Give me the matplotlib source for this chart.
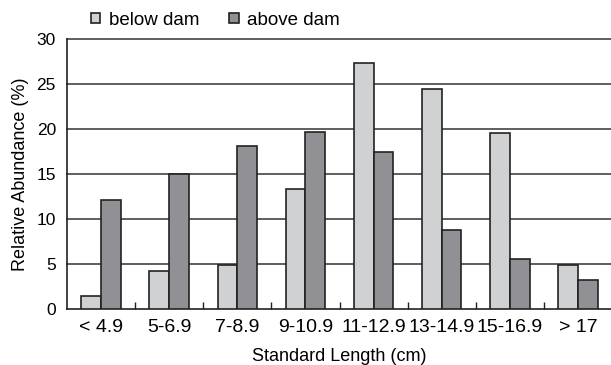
import matplotlib
matplotlib.use("Agg")
import matplotlib.pyplot as plt
import numpy as np

categories = ["< 4.9", "5-6.9", "7-8.9", "9-10.9", "11-12.9", "13-14.9", "15-16.9", "> 17"]
below_dam = [1.4, 4.2, 4.9, 13.3, 27.3, 24.4, 19.6, 4.9]
above_dam = [12.1, 15.0, 18.1, 19.7, 17.5, 8.8, 5.6, 3.2]
yticks = [0, 5, 10, 15, 20, 25, 30]

plt.rcParams['font.family'] = ['Liberation Sans', 'DejaVu Sans']

fig = plt.figure(figsize=(6.11, 3.65), dpi=100)
ax = fig.add_axes([67/611, 1-309/365, (612-67)/611, (309-39)/365])

light = "#d0d1d3"
dark = "#909095"
edge = "#222222"
x = np.arange(len(categories))
w = 0.29
ax.bar(x - w/2, below_dam, w, color=light, edgecolor=edge, linewidth=1.2, zorder=3, label="below dam")
ax.bar(x + w/2, above_dam, w, color=dark, edgecolor=edge, linewidth=1.2, zorder=3, label="above dam")

ax.set_xlim(-0.5, 7.5)
ax.set_ylim(0, 30)
ax.set_yticks(yticks)
for yv in yticks[1:]:
    ax.axhline(yv, color="#333333", linewidth=1.1, zorder=1, clip_on=False)

ax.spines['top'].set_visible(False)
ax.spines['right'].set_visible(False)
ax.spines['left'].set_linewidth(1.2)
ax.spines['bottom'].set_linewidth(1.2)
ax.spines['left'].set_color(edge)
ax.spines['bottom'].set_color(edge)

ax.set_xticks(x)
ax.set_xticklabels(categories, fontsize=14)
ax.tick_params(axis='x', which='major', length=0, pad=7)
ax.set_xticks(np.arange(0.5, 7.5, 1), minor=True)
ax.tick_params(axis='x', which='minor', direction='in', length=5, width=1, color=edge)
ax.tick_params(axis='y', length=0, labelsize=12.5, pad=8)

ax.set_xlabel("Standard Length (cm)", fontsize=13, labelpad=9)
ax.set_ylabel("Relative Abundance (%)", fontsize=13, labelpad=5)

leg = ax.legend(loc='lower left', bbox_to_anchor=(0.025, 1.0), ncol=2, frameon=False,
                fontsize=13.5, handlelength=0.5, handleheight=0.5, handletextpad=0.45,
                columnspacing=1.6, borderaxespad=0.15)

fig.savefig("out.png", dpi=100)
